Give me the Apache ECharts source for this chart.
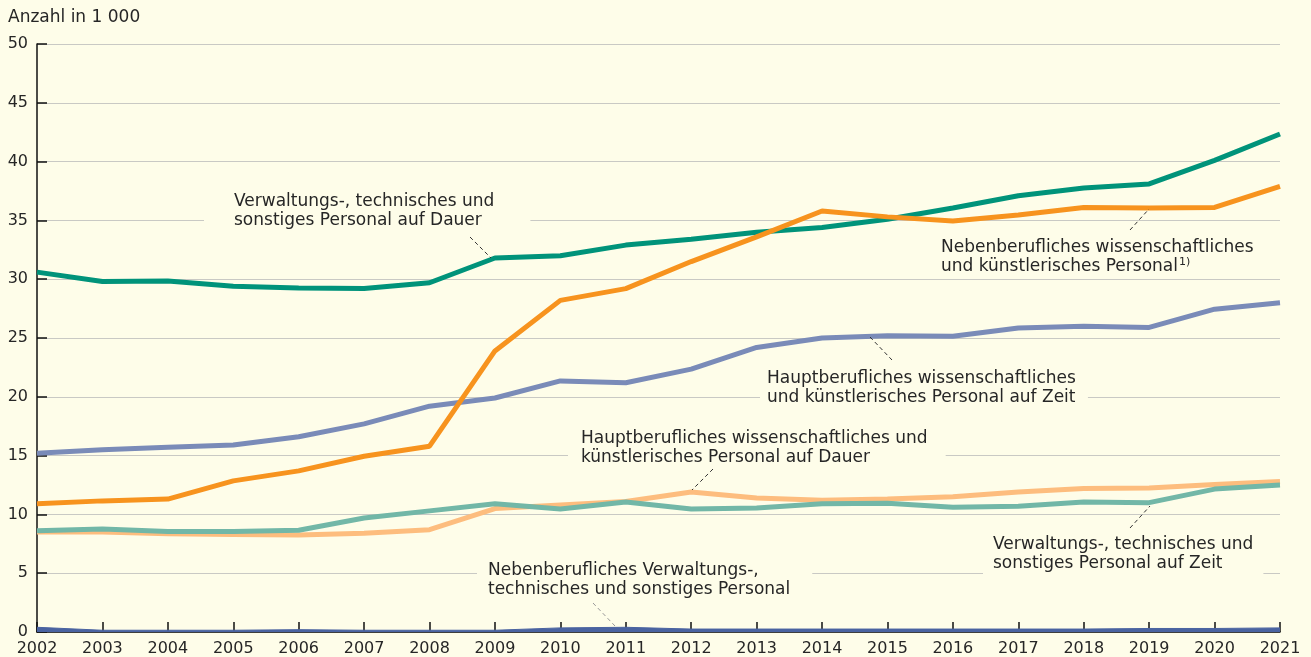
<!DOCTYPE html>
<html>
<head>
<meta charset="utf-8">
<script src="https://cdn.jsdelivr.net/npm/echarts@6/dist/echarts.min.js"></script>
<style>
html,body{margin:0;padding:0;background:#fefde9;}
#chart{width:1311px;height:657px;}
</style>
</head>
<body>
<div id="chart"></div>
<script>
var years = ['2002','2003','2004','2005','2006','2007','2008','2009','2010','2011','2012','2013','2014','2015','2016','2017','2018','2019','2020','2021'];
// Verwaltungs-, technisches und sonstiges Personal auf Dauer
var verwDauer = [30.6,29.8,29.85,29.4,29.25,29.2,29.7,31.8,32.0,32.9,33.4,34.0,34.4,35.1,36.05,37.1,37.75,38.1,40.1,42.35];
// Nebenberufliches wissenschaftliches und künstlerisches Personal
var nebenWiss = [10.9,11.15,11.3,12.85,13.7,14.95,15.8,23.9,28.2,29.2,31.5,33.6,35.8,35.3,34.95,35.45,36.1,36.05,36.1,37.9];
// Hauptberufliches wiss. und künstl. Personal auf Zeit
var hauptZeit = [15.2,15.5,15.7,15.9,16.6,17.7,19.2,19.9,21.35,21.2,22.35,24.2,25.0,25.2,25.15,25.85,26.0,25.9,27.45,28.0];
// Verwaltungs-, technisches und sonstiges Personal auf Zeit
var verwZeit = [8.6,8.75,8.55,8.55,8.65,9.7,10.3,10.9,10.45,11.05,10.45,10.55,10.9,10.95,10.6,10.7,11.05,11.0,12.15,12.5];
// Hauptberufliches wiss. und künstl. Personal auf Dauer
var hauptDauer = [8.5,8.5,8.35,8.3,8.25,8.4,8.7,10.5,10.8,11.1,11.9,11.4,11.2,11.3,11.5,11.9,12.2,12.25,12.55,12.8];
// Nebenberufliches Verwaltungs-, technisches und sonstiges Personal
var nebenVerw = [0.4,0.15,0.15,0.15,0.2,0.15,0.15,0.15,0.35,0.4,0.25,0.25,0.25,0.25,0.25,0.25,0.25,0.3,0.3,0.35];

var bg = '#fefde9';
var txt = '#262626';
var font = '"DejaVu Sans", Arial, sans-serif';

var chart = echarts.init(document.getElementById('chart'));

function lineSeries(name, data, color, z) {
    return {
        name: name,
        type: 'line',
        data: data,
        symbol: 'none',
        z: z,
        lineStyle: {color: color, width: 5},
        itemStyle: {color: color},
        animation: false
    };
}

var option = {
    backgroundColor: bg,
    textStyle: {fontFamily: font},
    grid: {left: 37, right: 31, top: 44, bottom: 25},
    xAxis: {
        type: 'category',
        data: years,
        boundaryGap: false,
        axisLine: {lineStyle: {color: '#111', width: 1.5}},
        axisTick: {inside: true, length: 10, lineStyle: {color: '#111', width: 1.5}},
        axisLabel: {color: txt, fontSize: 16, margin: 9, fontFamily: font, interval: 0}
    },
    yAxis: {
        type: 'value',
        min: 0,
        max: 50,
        interval: 5,
        axisLine: {show: true, lineStyle: {color: '#111', width: 1.5}},
        axisTick: {show: true, inside: true, length: 10, lineStyle: {color: '#111', width: 1.5}},
        axisLabel: {color: txt, fontSize: 16, margin: 9, fontFamily: font},
        splitLine: {lineStyle: {color: '#c9c9c4', width: 1.2}}
    },
    series: [
        {
            name: 'Nebenberufliches Verwaltungs-, technisches und sonstiges Personal',
            type: 'line',
            data: nebenVerw,
            symbol: 'none',
            z: 2,
            lineStyle: {color: '#4a63a0', width: 1},
            areaStyle: {color: '#4a63a0', opacity: 1},
            animation: false
        },
        lineSeries('Hauptberufliches wissenschaftliches und künstlerisches Personal auf Dauer', hauptDauer, '#fdbd7e', 3),
        lineSeries('Verwaltungs-, technisches und sonstiges Personal auf Zeit', verwZeit, '#72b7a7', 4),
        lineSeries('Hauptberufliches wissenschaftliches und künstlerisches Personal auf Zeit', hauptZeit, '#7a8bb8', 5),
        lineSeries('Verwaltungs-, technisches und sonstiges Personal auf Dauer', verwDauer, '#00937a', 6),
        lineSeries('Nebenberufliches wissenschaftliches und künstlerisches Personal', nebenWiss, '#f7931e', 7)
    ]
};
chart.setOption(option);

function label(x, y, text, pad, rich) {
    return {
        type: 'text', x: x - pad[3], y: y - pad[0], z: 10,
        style: {
            text: text, fill: txt, font: '17px ' + font, lineHeight: 19,
            backgroundColor: bg, padding: pad, rich: rich
        }
    };
}
function leader(x1, y1, x2, y2, color) {
    return {
        type: 'line', z: 11,
        shape: {x1: x1, y1: y1, x2: x2, y2: y2},
        style: {stroke: color || '#333', lineWidth: 1, lineDash: [4, 3]}
    };
}
var sup = {sup: {fontSize: 11, fill: txt, verticalAlign: 'top', padding: [0, 0, 8, 1], fontFamily: font}};

chart.setOption({
    graphic: [
        label(234, 192, 'Verwaltungs-, technisches und\nsonstiges Personal auf Dauer', [2, 36, 2, 30]),
        leader(470, 237, 491, 258),
        label(941, 238, 'Nebenberufliches wissenschaftliches\nund künstlerisches Personal{sup|1)}', [0, 10, 0, 10], sup),
        leader(1130, 230, 1149, 209),
        label(767, 369, 'Hauptberufliches wissenschaftliches\nund künstlerisches Personal auf Zeit', [2, 12, 2, 7]),
        leader(870, 337, 892, 360),
        label(581, 429, 'Hauptberufliches wissenschaftliches und\nkünstlerisches Personal auf Dauer', [2, 18, 2, 13]),
        leader(713, 469, 692, 490),
        label(993, 535, 'Verwaltungs-, technisches und\nsonstiges Personal auf Zeit', [2, 10, 2, 10]),
        leader(1130, 528, 1150, 506),
        label(488, 561, 'Nebenberufliches Verwaltungs-,\ntechnisches und sonstiges Personal', [2, 22, 2, 11]),
        leader(593, 603, 615, 626, '#999'),
        {
            type: 'text', x: 8, y: 9, z: 10,
            style: {text: 'Anzahl in 1 000', fill: txt, font: '17px ' + font}
        }
    ]
});
</script>
</body>
</html>
